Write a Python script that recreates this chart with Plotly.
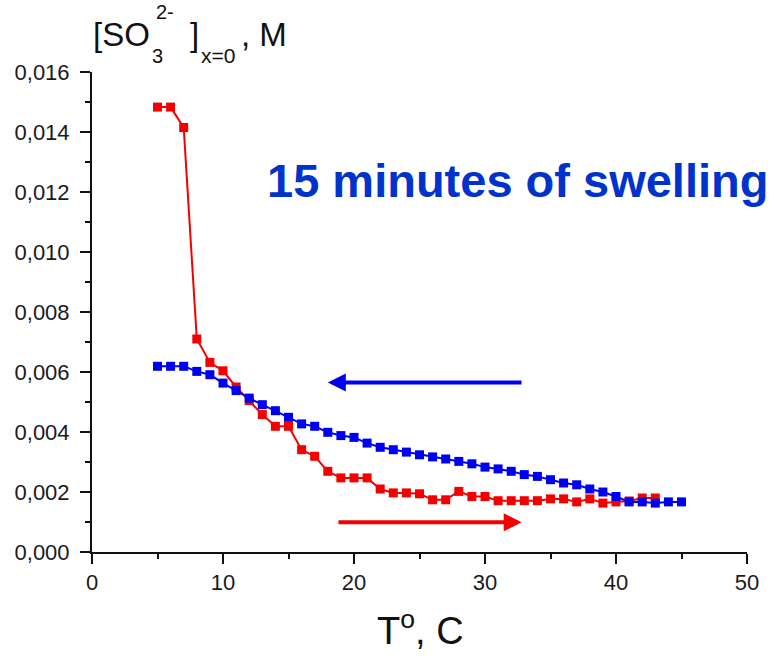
import plotly.graph_objects as go

# ---- data ----
T_heating = list(range(5, 44))
SO3_heating = [0.01483, 0.01483, 0.01415, 0.00710, 0.00632, 0.00604, 0.00550, 0.00505,
               0.00458, 0.00419, 0.00419, 0.00341, 0.00319, 0.00269, 0.00247, 0.00247,
               0.00247, 0.00210, 0.00197, 0.00197, 0.00194, 0.00174, 0.00174, 0.00202,
               0.00185, 0.00185, 0.00171, 0.00171, 0.00171, 0.00171, 0.00177, 0.00177,
               0.00167, 0.00177, 0.00163, 0.00167, 0.00170, 0.00180, 0.00180]

T_cooling = list(range(5, 46))
SO3_cooling = [0.00619, 0.00619, 0.00619, 0.00602, 0.00591, 0.00563, 0.00538, 0.00513,
               0.00491, 0.00471, 0.00449, 0.00427, 0.00419, 0.00399, 0.00388, 0.00382,
               0.00363, 0.00349, 0.00341, 0.00333, 0.00324, 0.00317, 0.00310, 0.00302,
               0.00294, 0.00283, 0.00277, 0.00269, 0.00258, 0.00252, 0.00241, 0.00230,
               0.00224, 0.00210, 0.00200, 0.00185, 0.00167, 0.00167, 0.00163, 0.00167,
               0.00167]

x_ticks = [0, 10, 20, 30, 40, 50]
y_ticks = [0.000, 0.002, 0.004, 0.006, 0.008, 0.010, 0.012, 0.014, 0.016]

# direction arrows (data coords): (tail_x, head_x, y)
blue_arrow = (32.9, 18.0, 0.00565)
red_arrow = (18.7, 32.8, 0.00099)

RED = "#f40000"
BLUE = "#0000f0"
FONT = "Liberation Sans"

fig = go.Figure()
fig.add_trace(go.Scatter(x=T_heating, y=SO3_heating, mode="lines+markers",
                         line=dict(color=RED, width=2),
                         marker=dict(symbol="square", size=9, color=RED),
                         showlegend=False))
fig.add_trace(go.Scatter(x=T_cooling, y=SO3_cooling, mode="lines+markers",
                         line=dict(color=BLUE, width=2),
                         marker=dict(symbol="square", size=9, color=BLUE),
                         showlegend=False))

W, H = 777, 656
L, R, TOP, B = 92, 30, 72, 104
pw, ph = W - L - R, H - TOP - B


def px(x):
    return (x - L) / pw


def py(y):
    return (H - B - y) / ph


ann = []
for tail, head, yv, col in [(blue_arrow[0], blue_arrow[1], blue_arrow[2], BLUE),
                            (red_arrow[0], red_arrow[1], red_arrow[2], RED)]:
    ann.append(dict(x=head, y=yv, ax=tail, ay=yv, xref="x", yref="y", axref="x", ayref="y",
                    text="", showarrow=True, arrowhead=2, arrowsize=0.9, arrowwidth=4,
                    arrowcolor=col))

ann.append(dict(x=px(265), y=py(180), xref="paper", yref="paper", xanchor="left",
                yanchor="middle", text="<b>15 minutes of swelling</b>", showarrow=False,
                font=dict(family=FONT, size=47, color="#0033cc")))

# y-axis title pieces
ylab = [("[SO", 92, 35, 33), ("3", 151, 56, 20), ("2-", 155, 12, 20),
        ("]", 189, 35, 33), ("x=0", 200, 56, 21), (", M", 240, 35, 33)]
for t, xx, yy, sz in ylab:
    ann.append(dict(x=px(xx), y=py(yy), xref="paper", yref="paper", xanchor="left",
                    yanchor="middle", text=t, showarrow=False, borderpad=0,
                    font=dict(family=FONT, size=sz, color="#111111")))

ann.append(dict(x=px(420), y=py(628), xref="paper", yref="paper", xanchor="center",
                yanchor="middle", text="T<sup>o</sup>, C", showarrow=False,
                font=dict(family=FONT, size=38, color="#111111")))

axis_common = dict(showline=True, linecolor="#111111", linewidth=2, ticks="outside",
                   ticklen=10, tickwidth=2, tickcolor="#111111", showgrid=False,
                   zeroline=False, mirror=False,
                   tickfont=dict(family=FONT, size=22, color="#1a1a1a"))

fig.update_layout(
    width=W, height=H,
    margin=dict(l=L, r=R, t=TOP, b=B),
    paper_bgcolor="white", plot_bgcolor="white",
    separators=", ",
    annotations=ann,
    xaxis=dict(range=[0, 50], tickvals=x_ticks, ticktext=[str(v) for v in x_ticks],
               minor=dict(dtick=5, tick0=0, ticks="outside", ticklen=5, tickwidth=2,
                          tickcolor="#111111"),
               **axis_common),
    yaxis=dict(range=[0, 0.016], tickvals=y_ticks, tickformat=".3f",
               ticklabelstandoff=6,
               minor=dict(dtick=0.001, tick0=0, ticks="outside", ticklen=5, tickwidth=2,
                          tickcolor="#111111"),
               **axis_common),
)

fig.write_html("out.html")
